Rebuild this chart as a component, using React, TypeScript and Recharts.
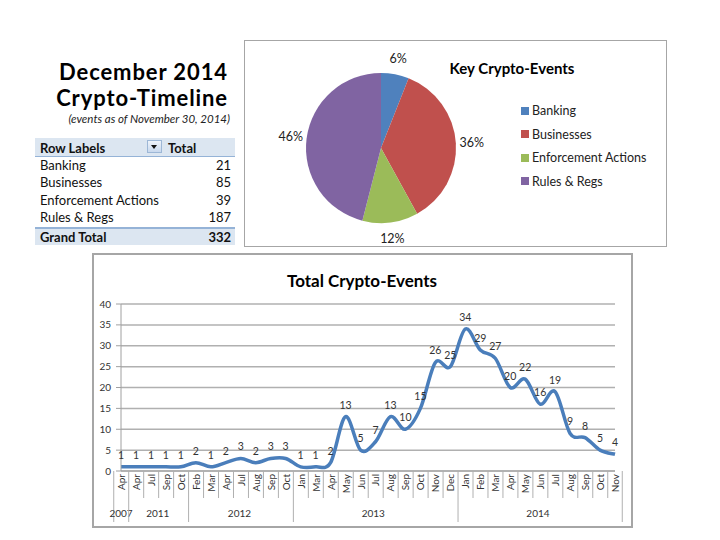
import React from 'react';
import { LineChart, Line, XAxis, YAxis, CartesianGrid, LabelList, PieChart, Pie, Cell, Legend } from 'recharts';

// ---------- data ----------
const monthLabels = ['Apr', 'Apr', 'Jul', 'Sep', 'Oct', 'Feb', 'Mar', 'Apr', 'Jul', 'Aug', 'Sep', 'Oct', 'Jan', 'Mar', 'Apr', 'May', 'Jun', 'Jul', 'Aug', 'Sep', 'Oct', 'Nov', 'Dec', 'Jan', 'Feb', 'Mar', 'Apr', 'May', 'Jun', 'Jul', 'Aug', 'Sep', 'Oct', 'Nov'];
const monthYears = ['2007', '2011', '2011', '2011', '2011', '2012', '2012', '2012', '2012', '2012', '2012', '2012', '2013', '2013', '2013', '2013', '2013', '2013', '2013', '2013', '2013', '2013', '2013', '2014', '2014', '2014', '2014', '2014', '2014', '2014', '2014', '2014', '2014', '2014'];
const eventCounts = [1, 1, 1, 1, 1, 2, 1, 2, 3, 2, 3, 3, 1, 1, 2, 13, 5, 7, 13, 10, 15, 26, 25, 34, 29, 27, 20, 22, 16, 19, 9, 8, 5, 4];
const yTicks = [0, 5, 10, 15, 20, 25, 30, 35, 40];

const pieCategories = ['Banking', 'Businesses', 'Enforcement Actions', 'Rules & Regs'];
const pieShares = [6, 36, 12, 46];
const pieColors = ['#4f81bd', '#c0504d', '#9bbb59', '#8064a2'];

const tableLabels = ['Banking', 'Businesses', 'Enforcement Actions', 'Rules & Regs'];
const tableTotals = [21, 85, 39, 187];
const grandTotal = 332;

const titleLines = ['December 2014', 'Crypto-Timeline'];

const lineData = monthLabels.map((m, i) => ({ k: `${monthYears[i]}-${m}-${i}`, m, y: monthYears[i], v: eventCounts[i] }));
const pieData = pieCategories.map((name, i) => ({ name, value: pieShares[i] }));

// ---------- layout ----------
const FONT = 'Lato, "Open Sans", sans-serif';
const LC_W = 540;
const LC_H = 274;
const LC_M = { top: 51, right: 17, left: 0, bottom: 0 };
const Y_W = 29;
const X_H = 56;
const PLOT_W = LC_W - LC_M.left - LC_M.right - Y_W;
const STEP = PLOT_W / monthLabels.length;

// Excel-like smoothed line (Catmull-Rom style Bezier)
const excelSmooth: any = (context: any) => {
  let pts: number[][] = [];
  return {
    areaStart() {},
    areaEnd() {},
    lineStart() {
      pts = [];
    },
    lineEnd() {
      const n = pts.length;
      if (!n) return;
      context.moveTo(pts[0][0], pts[0][1]);
      for (let i = 0; i < n - 1; i++) {
        const p0 = pts[i - 1] || pts[i];
        const p1 = pts[i];
        const p2 = pts[i + 1];
        const p3 = pts[i + 2] || p2;
        context.bezierCurveTo(
          p1[0] + (p2[0] - p0[0]) / 6,
          p1[1] + (p2[1] - p0[1]) / 6,
          p2[0] - (p3[0] - p1[0]) / 6,
          p2[1] - (p3[1] - p1[1]) / 6,
          p2[0],
          p2[1]
        );
      }
    },
    point(x: number, y: number) {
      pts.push([+x, +y]);
    },
  };
};

const MonthTick = (props: any) => {
  const { x, y, payload } = props;
  const i: number = payload.index;
  const yr = monthYears[i];
  const isStart = i === 0 || monthYears[i - 1] !== yr;
  const isLast = i === monthLabels.length - 1;
  const left = x - STEP / 2;
  const groupSize = monthYears.filter((v) => v === yr).length;
  const lineColor = '#b0b0b0';
  return (
    <g>
      <line x1={left} y1={y} x2={left} y2={y + (isStart ? 51 : 27)} stroke={lineColor} strokeWidth={1} />
      {isLast && <line x1={x + STEP / 2} y1={y} x2={x + STEP / 2} y2={y + 51} stroke={lineColor} strokeWidth={1} />}
      <text
        x={x}
        y={y + 3}
        transform={`rotate(-90, ${x}, ${y + 3})`}
        textAnchor="end"
        dominantBaseline="central"
        fontSize={10}
        fontFamily={FONT}
        fill="#333"
      >
        {monthLabels[i]}
      </text>
      {isStart && (
        <text
          x={x + ((groupSize - 1) / 2) * STEP}
          y={y + 46}
          textAnchor="middle"
          fontSize={10}
          fontFamily={FONT}
          fill="#333"
        >
          {yr}
        </text>
      )}
    </g>
  );
};

const renderPieLabel = (p: any) => {
  const RAD = Math.PI / 180;
  const r = p.outerRadius + 16;
  const x = p.cx + r * Math.cos(-p.midAngle * RAD);
  const y = p.cy + r * Math.sin(-p.midAngle * RAD);
  return (
    <text x={x} y={y} textAnchor="middle" dominantBaseline="central" fontSize={12.5} fontFamily={FONT} fill="#222">
      {`${Math.round(p.percent * 100)}%`}
    </text>
  );
};

const PieLegend = () => (
  <div style={{ fontFamily: FONT, fontSize: 12.5, color: '#222' }}>
    {pieCategories.map((c, i) => (
      <div key={c} style={{ height: 23.5, display: 'flex', alignItems: 'center' }}>
        <span style={{ display: 'inline-block', width: 8, height: 8, background: pieColors[i], marginRight: 3 }} />
        <span>{c}</span>
      </div>
    ))}
  </div>
);

const abs = (left: number, top: number, extra: React.CSSProperties = {}): React.CSSProperties => ({
  position: 'absolute',
  left,
  top,
  ...extra,
});

export default function App() {
  const rowTop = [156.5, 174, 191.5, 209];
  const cell: React.CSSProperties = { fontSize: 13, lineHeight: '16px', color: '#111' };
  return (
    <div style={{ position: 'absolute', left: 0, top: 0, width: 720, height: 540, background: '#fff', fontFamily: FONT, overflow: 'hidden' }}>
      {/* Left title block */}
      {titleLines.map((t, i) => (
        <div key={t} style={abs(20, 60 + i * 26, { width: 208, textAlign: 'right', fontWeight: 700, fontSize: 22, lineHeight: '24px', letterSpacing: 0.9, color: '#000' })}>
          {t}
        </div>
      ))}
      <div style={abs(16, 112, { width: 214, textAlign: 'right', fontStyle: 'italic', fontSize: 11.5, lineHeight: '14px', color: '#222' })}>
        (events as of November 30, 2014)
      </div>

      {/* Pivot table */}
      <div style={abs(35, 138, { width: 200, height: 19, background: '#dce6f1', borderBottom: '1px solid #95b3d7', boxSizing: 'border-box' })} />
      <div style={abs(40, 139.5, { ...cell, fontWeight: 700 })}>Row Labels</div>
      <div style={abs(147, 140, { width: 15, height: 13, boxSizing: 'border-box', border: '1px solid #9db7d6', background: 'linear-gradient(#eef3fa, #c9d9ee)' })}>
        <div style={{ position: 'absolute', left: 3, top: 4, width: 0, height: 0, borderLeft: '3.5px solid transparent', borderRight: '3.5px solid transparent', borderTop: '4px solid #111' }} />
      </div>
      <div style={abs(168, 139.5, { ...cell, fontWeight: 700 })}>Total</div>
      {tableLabels.map((lab, i) => (
        <React.Fragment key={lab}>
          <div style={abs(40, rowTop[i], cell)}>{lab}</div>
          <div style={abs(170, rowTop[i], { ...cell, width: 61, textAlign: 'right' })}>{tableTotals[i]}</div>
        </React.Fragment>
      ))}
      <div style={abs(35, 227, { width: 200, height: 18, background: '#dce6f1', borderTop: '2px solid #95b3d7', boxSizing: 'border-box' })} />
      <div style={abs(40, 228.5, { ...cell, fontWeight: 700 })}>Grand Total</div>
      <div style={abs(170, 228.5, { ...cell, width: 61, textAlign: 'right', fontWeight: 700 })}>{grandTotal}</div>

      {/* Pie chart box */}
      <div style={abs(244, 40, { width: 423, height: 207, border: '1.5px solid #a6a6a6', boxSizing: 'border-box' })} />
      <div style={abs(244, 40)}>
        <PieChart width={422} height={206} margin={{ top: 0, right: 0, bottom: 0, left: 0 }}>
          <Pie
            data={pieData}
            dataKey="value"
            nameKey="name"
            cx={137}
            cy={108}
            outerRadius={75}
            startAngle={90}
            endAngle={-270}
            stroke="none"
            label={renderPieLabel}
            labelLine={false}
            isAnimationActive={false}
          >
            {pieData.map((d, i) => (
              <Cell key={d.name} fill={pieColors[i]} />
            ))}
          </Pie>
          <Legend
            layout="vertical"
            align="right"
            verticalAlign="top"
            content={() => <PieLegend />}
            wrapperStyle={{ position: 'absolute', left: 277, top: 59, width: 145 }}
          />
        </PieChart>
      </div>
      <div style={abs(244, 59, { width: 536, textAlign: 'center', fontWeight: 700, fontSize: 15, color: '#000' })}>
        Key Crypto-Events
      </div>

      {/* Line chart box */}
      <div style={abs(92, 253, { width: 541, height: 275, border: '2px solid #a6a6a6', boxSizing: 'border-box' })} />
      <div style={abs(92, 270, { width: 540, textAlign: 'center', fontWeight: 700, fontSize: 17, color: '#000' })}>
        Total Crypto-Events
      </div>
      <div style={abs(92, 253)}>
        <LineChart width={LC_W} height={LC_H} data={lineData} margin={LC_M}>
          <CartesianGrid horizontal vertical={false} stroke="#b0b0b0" strokeWidth={1.5} />
          <YAxis
            width={Y_W}
            domain={[0, 40]}
            ticks={yTicks}
            interval={0}
            tickSize={5}
            tickMargin={5}
            axisLine={{ stroke: '#a0a0a0' }}
            tickLine={{ stroke: '#a0a0a0' }}
            tick={{ fontSize: 10, fill: '#333', fontFamily: FONT }}
          />
          <XAxis
            dataKey="k"
            interval={0}
            height={X_H}
            tickSize={0}
            tickMargin={0}
            tickLine={false}
            axisLine={{ stroke: '#a0a0a0' }}
            tick={<MonthTick />}
          />
          <Line
            dataKey="v"
            type={excelSmooth}
            stroke="#4a7ebb"
            strokeWidth={3.5}
            dot={false}
            isAnimationActive={false}
          >
            <LabelList dataKey="v" position="top" offset={8} fontSize={10.5} fill="#333" fontFamily={FONT} />
          </Line>
        </LineChart>
      </div>
    </div>
  );
}
